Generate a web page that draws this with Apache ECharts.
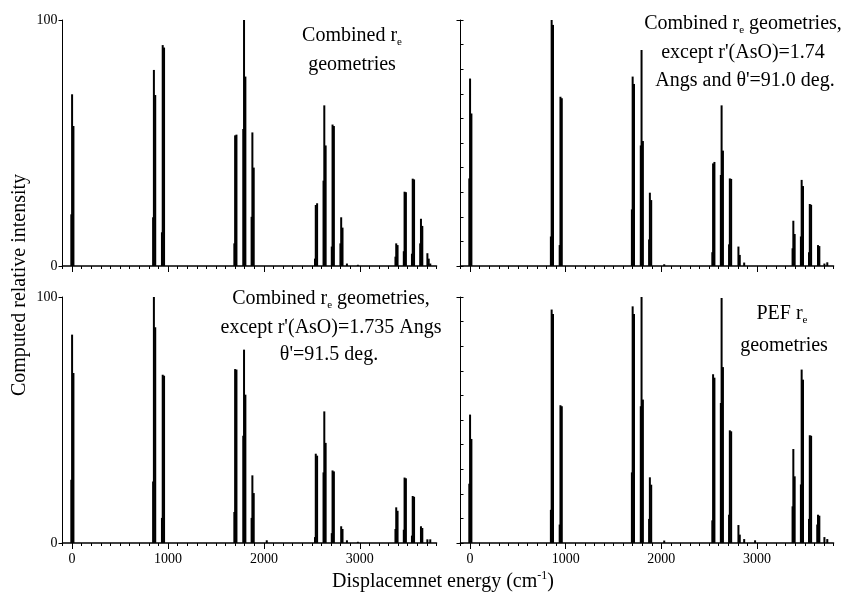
<!DOCTYPE html>
<html><head><meta charset="utf-8">
<script src="https://cdn.jsdelivr.net/npm/echarts@6/dist/echarts.min.js"></script>
<style>html,body{margin:0;background:#fff}#c{width:848px;height:595px}</style>
</head><body><div id="c"></div><script>
// Component positions (cm-1): main line A, second line B, shoulder C
const posA = [0, 853, 945, 1700, 1793, 1880, 2030, 2541, 2630, 2716, 2806, 2866, 2980, 3380, 3467, 3552, 3638, 3705, 3735];
const posB = [14, 867, 959, 1714, 1807, 1894, 2044, 2555, 2644, 2730, 2820, 2880, 2994, 3394, 3481, 3566, 3652, 3719, 3749];
const posC = [-8, 845, 937, 1692, 1785, 1872, 2022, 2533, 2622, 2708, 2798, 2858, 2972, 3372, 3459, 3544, 3630, 3697, 3727];

// Top-left: Combined re geometries
const tlA = [69.8, 79.7, 89.8, 53.1, 100, 54.3, 0, 24.8, 65.3, 57.5, 19.8, 1, 0.5, 9.2, 30.2, 35.5, 19.2, 5.2, 1];
const tlB = [56.9, 69.5, 88.8, 53.4, 77, 40, 0, 25.5, 49, 56.9, 15.6, 0, 0, 8.5, 30, 35.2, 16.3, 3, 0];
const tlC = [21, 19.8, 13.7, 9.2, 55.7, 20, 0, 3, 34.7, 7.9, 9.2, 0, 0, 3.8, 6, 5, 9.2, 0, 0];
// Top-right: r'(AsO)=1.74, theta'=91.0
const trA = [76.2, 100, 68.8, 77, 87.8, 29.8, 0.7, 41.7, 65.3, 35.6, 7.9, 1.4, 0, 18.4, 35, 25.2, 8.5, 1, 1.5];
const trB = [62, 98, 68.2, 74, 50.8, 26.8, 0, 42.3, 46.9, 35.4, 4.5, 0, 0, 13, 32.5, 24.9, 8.1, 0, 0];
const trC = [35.6, 12, 8.5, 23, 49, 10.8, 0, 5.6, 37, 8.8, 0, 0, 0, 7.2, 12, 5.6, 0, 0, 0];
// Bottom-left: r'(AsO)=1.735, theta'=91.5
const blA = [84.7, 100, 68.4, 70.7, 78.6, 27.5, 1.1, 36.3, 53.5, 29.5, 6.8, 1.1, 0.5, 14.5, 26.6, 19.1, 6.8, 1.5, 1.5];
const blB = [69.1, 87.7, 68, 70.5, 60.3, 20.3, 0, 35.5, 40.7, 29.1, 5.7, 0, 0, 13.1, 26.3, 18.8, 6.1, 0, 0];
const blC = [25.7, 25, 10.2, 12.6, 43.6, 10.2, 0, 2.4, 28.7, 4, 0, 0, 0, 5.7, 5.4, 3, 0, 0, 0];
// Bottom-right: PEF re geometries
const brA = [52.2, 94.9, 56, 96.2, 100, 26.7, 1, 68.6, 99.6, 45.8, 7.3, 1.6, 1.1, 38.2, 70.5, 43.8, 11.5, 2.4, 1.6];
const brB = [42.3, 93.1, 55.6, 93.1, 58.3, 23.7, 0, 67.2, 71.5, 45.4, 3.4, 0, 0, 27.1, 66.4, 43.6, 11.1, 0, 0];
const brC = [24.1, 13.5, 7.5, 28.7, 55.6, 9.8, 0, 9.2, 56.9, 11.5, 0, 0, 0, 14.9, 23.8, 9.8, 7.5, 0, 0];

const xMajorTicks = [0, 1000, 2000, 3000];
const yTickLabels = [0, 100];

const FONT = 'Liberation Serif';
const panels = [
  {grid: {left: 62.5, top: 20, width: 374, height: 246}, A: tlA, B: tlB, C: tlC, xl: false, yl: true, ym: false},
  {grid: {left: 460.5, top: 20, width: 373, height: 246}, A: trA, B: trB, C: trC, xl: false, yl: false, ym: true},
  {grid: {left: 62.5, top: 297, width: 374, height: 246}, A: blA, B: blB, C: blC, xl: true, yl: true, ym: false},
  {grid: {left: 460.5, top: 297, width: 373, height: 246}, A: brA, B: brB, C: brC, xl: true, yl: false, ym: true}
];

const grids = [], xAxes = [], yAxes = [], series = [];
panels.forEach((p, i) => {
  grids.push(Object.assign({containLabel: false}, p.grid));
  xAxes.push({
    gridIndex: i, type: 'value', min: -100, max: 3800, interval: 100, position: 'bottom',
    axisLine: {onZero: false, lineStyle: {color: '#000', width: 1.6}},
    axisTick: {customValues: xMajorTicks, length: 6, lineStyle: {color: '#000', width: 1}},
    axisLabel: {show: p.xl, customValues: xMajorTicks, formatter: v => String(v), color: '#000', fontFamily: FONT, fontSize: 14, margin: 9},
    splitLine: {show: false}
  });
  xAxes.push({
    gridIndex: i, type: 'value', min: -100, max: 3800, interval: 100, position: 'bottom',
    axisLine: {show: false, onZero: false},
    axisTick: {length: 3, lineStyle: {color: '#000', width: 1}},
    axisLabel: {show: false}, splitLine: {show: false}
  });
  yAxes.push({
    gridIndex: i, type: 'value', min: 0, max: 100, interval: 100, position: 'left',
    axisLine: {show: true, onZero: false, lineStyle: {color: '#000', width: 1}},
    axisTick: {show: true, customValues: yTickLabels, length: 4, lineStyle: {color: '#000'}},
    axisLabel: {show: p.yl, customValues: yTickLabels, formatter: v => String(v), color: '#000', fontFamily: FONT, fontSize: 14, margin: 5},
    splitLine: {show: false}
  });
  yAxes.push({
    gridIndex: i, type: 'value', min: 0, max: 100, interval: 10, position: 'left',
    axisLine: {show: false, onZero: false},
    axisTick: {show: p.ym, inside: true, length: 3, lineStyle: {color: '#000'}},
    axisLabel: {show: false}, splitLine: {show: false}
  });
  const data = [];
  posC.forEach((x, k) => { if (p.C[k] > 0) data.push([x, p.C[k]]); });
  posB.forEach((x, k) => { if (p.B[k] > 0) data.push([x, p.B[k]]); });
  posA.forEach((x, k) => { if (p.A[k] > 0) data.push([x, p.A[k]]); });
  series.push({
    type: 'bar', xAxisIndex: 2 * i, yAxisIndex: 2 * i, barWidth: 2,
    itemStyle: {color: '#000'}, silent: true, data: data
  });
});

const rich = {
  n: {fontSize: 20, fontFamily: FONT, color: '#000', lineHeight: 24},
  s: {fontSize: 11, fontFamily: FONT, color: '#000', lineHeight: 10, verticalAlign: 'bottom'},
  p: {fontSize: 12, fontFamily: FONT, color: '#000', lineHeight: 10, verticalAlign: 'top'}
};
function txt(x, y, text, rot) {
  return {type: 'text', x: x, y: y, rotation: rot || 0, silent: true,
    style: {text: text, rich: rich, align: 'center', verticalAlign: 'middle', fill: '#000', font: '20px ' + FONT}};
}
const graphic = [
  txt(352, 36, '{n|Combined r}{s|e}'),
  txt(352, 65, '{n|geometries}'),
  txt(743, 24, '{n|Combined r}{s|e}{n| geometries,}'),
  txt(743, 53, '{n|except r\'(AsO)=1.74}'),
  txt(745, 81, '{n|Angs and θ\'=91.0 deg.}'),
  txt(331, 299, '{n|Combined r}{s|e}{n| geometries,}'),
  txt(331, 328, '{n|except r\'(AsO)=1.735 Angs}'),
  txt(329, 355, '{n|θ\'=91.5 deg.}'),
  txt(782, 314, '{n|PEF r}{s|e}'),
  txt(784, 346, '{n|geometries}'),
  txt(443, 582, '{n|Displacemnet energy (cm}{p|-1}{n|)}'),
  txt(20, 285, '{n|Computed relative intensity}', Math.PI / 2)
];

const chart = echarts.init(document.getElementById('c'), null, {renderer: 'canvas'});
chart.setOption({
  animation: false, backgroundColor: '#fff',
  grid: grids, xAxis: xAxes, yAxis: yAxes, series: series, graphic: graphic
});
</script></body></html>
